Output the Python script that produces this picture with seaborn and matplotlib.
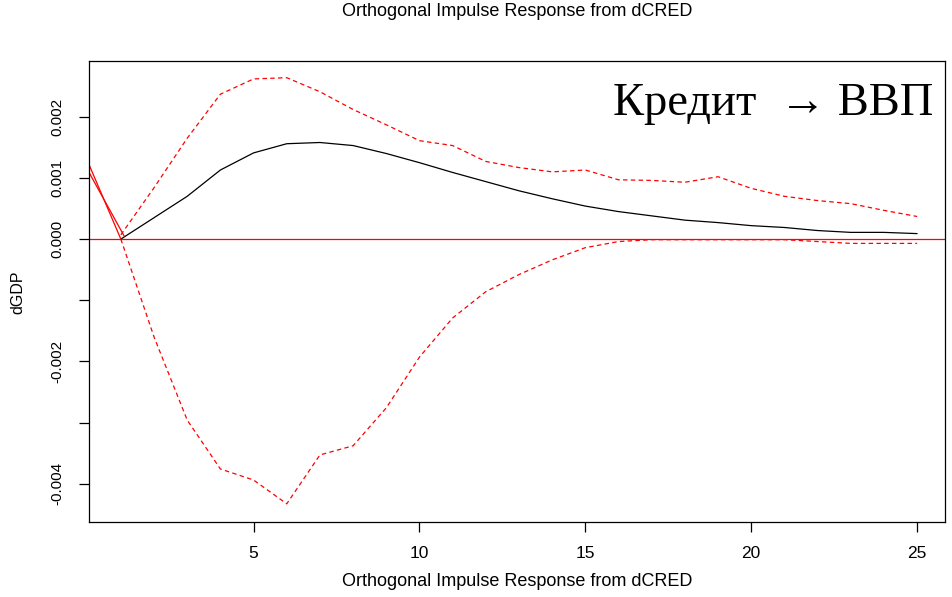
import matplotlib
matplotlib.use("Agg")
import matplotlib.pyplot as plt
import seaborn as sns
import pandas as pd

# Orthogonal impulse response of dGDP to a dCRED shock, with bootstrap bands
steps = list(range(1, 26))
irf = [0.0, 0.00035, 0.00070, 0.00113, 0.00141, 0.00156, 0.00158, 0.00153,
       0.00140, 0.00125, 0.00109, 0.00094, 0.00079, 0.00066, 0.00054, 0.00045,
       0.00038, 0.00031, 0.00027, 0.00022, 0.00019, 0.00014, 0.00011, 0.00011,
       0.00009]
upper = [0.00007, 0.00084, 0.00165, 0.00237, 0.00262, 0.00264, 0.00241, 0.00212,
         0.00187, 0.00161, 0.00153, 0.00127, 0.00117, 0.00110, 0.00113, 0.00097,
         0.00096, 0.00093, 0.00102, 0.00083, 0.00070, 0.00063, 0.00058, 0.00047,
         0.00037]
lower = [0.0, -0.00160, -0.00296, -0.00376, -0.00394, -0.00433, -0.00353, -0.00338,
         -0.00276, -0.00193, -0.00129, -0.00086, -0.00058, -0.00034, -0.00014,
         -0.00004, -0.00001, -0.00001, -0.00001, -0.00001, -0.00001, -0.00004,
         -0.00007, -0.00007, -0.00007]

# Two short solid segments entering from the left edge
stub_a_x = [0.0, 1.0]
stub_a = [0.00127, 0.0]
stub_b_x = [0.0, 1.1]
stub_b = [0.00113, 0.00005]

x_ticks = [5, 10, 15, 20, 25]
y_ticks = [-0.004, -0.003, -0.002, -0.001, 0.000, 0.001, 0.002]
y_tick_labels = ["-0.004", "", "-0.002", "", "0.000", "0.001", "0.002"]

title_text = "Orthogonal Impulse Response from dCRED"
y_label = "dGDP"
note_text = "Кредит  → ВВП"

sns.set_style("white")
plt.rcParams["font.family"] = ["Liberation Sans", "DejaVu Sans"]
plt.rcParams["lines.scale_dashes"] = False
for key in ["text.color", "axes.labelcolor", "xtick.color", "ytick.color"]:
    plt.rcParams[key] = "black"

df = pd.DataFrame({"step": steps, "irf": irf, "upper": upper, "lower": lower})

W, H = 953, 597
fig = plt.figure(figsize=(W / 100, H / 100), dpi=100)
ax = fig.add_axes([89 / W, 1 - 522 / H, (945 - 89) / W, (522 - 61) / H])

ax.axhline(0, color="red", lw=0.9, zorder=1)
sns.lineplot(data=df, x="step", y="irf", color="black", lw=0.9, ax=ax)
for col in ["upper", "lower"]:
    sns.lineplot(data=df, x="step", y=col, color="red", lw=0.9, ax=ax,
                 dashes=False, linestyle=(0, (3.2, 2.4)))
sns.lineplot(x=stub_a_x, y=stub_a, color="red", lw=0.9, ax=ax)
sns.lineplot(x=stub_b_x, y=stub_b, color="red", lw=0.9, ax=ax)

ax.set_xlim(0.04, 25.84)
ax.set_ylim(-0.004627, 0.002913)

ax.set_xticks(x_ticks)
ax.set_xticklabels([str(t) for t in x_ticks], fontsize=12.5)
ax.set_yticks(y_ticks)
ax.set_yticklabels(y_tick_labels, fontsize=11, rotation=90, va="center")
ax.tick_params(axis="both", direction="out", length=7.5, width=0.9,
               bottom=True, left=True)
ax.tick_params(axis="x", pad=10)
ax.tick_params(axis="y", pad=10.5)

for s in ax.spines.values():
    s.set_visible(True)
    s.set_color("black")
    s.set_linewidth(0.9)

ax.set_xlabel("")
ax.set_ylabel("")
cx = (89 + 945) / 2 / W
fig.text(cx, 1 - 582 / H, title_text, ha="center", va="center", fontsize=13)
fig.text(cx, 1 - 12 / H, title_text, ha="center", va="center", fontsize=13)
fig.text(18 / W, 1 - 292 / H, y_label, ha="center", va="center", fontsize=11.5,
         rotation=90)

ax.text(0.987, 0.883, note_text, transform=ax.transAxes, ha="right", va="baseline",
        fontsize=33.5, family=["Liberation Serif", "DejaVu Serif"])

fig.savefig("out.png", dpi=100)
